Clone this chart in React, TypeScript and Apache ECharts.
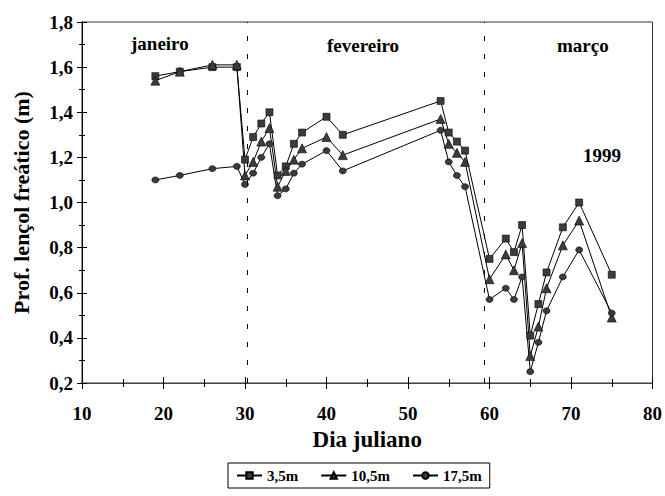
import React, { useEffect, useRef } from "react";
import * as echarts from "echarts";

const days = [19, 22, 26, 29, 30, 31, 32, 33, 34, 35, 36, 37, 40, 42, 54, 55, 56, 57, 60, 62, 63, 64, 65, 66, 67, 69, 71, 75];
const depth35 = [1.56, 1.58, 1.60, 1.60, 1.19, 1.29, 1.35, 1.40, 1.12, 1.16, 1.26, 1.31, 1.38, 1.30, 1.45, 1.31, 1.27, 1.23, 0.75, 0.84, 0.78, 0.90, 0.41, 0.55, 0.69, 0.89, 1.00, 0.68];
const depth105 = [1.54, 1.58, 1.61, 1.61, 1.12, 1.18, 1.27, 1.33, 1.07, 1.14, 1.19, 1.24, 1.29, 1.21, 1.37, 1.26, 1.22, 1.18, 0.66, 0.77, 0.70, 0.82, 0.32, 0.45, 0.62, 0.81, 0.92, 0.49];
const depth175 = [1.10, 1.12, 1.15, 1.16, 1.08, 1.13, 1.20, 1.26, 1.03, 1.06, 1.13, 1.17, 1.23, 1.14, 1.32, 1.18, 1.12, 1.07, 0.57, 0.62, 0.57, 0.67, 0.25, 0.38, 0.52, 0.67, 0.79, 0.51];
const seriesNames = ["3,5m", "10,5m", "17,5m"];
const monthBounds = [30.3, 59.4];
const monthLabels = ["janeiro", "fevereiro", "março"];
const yearLabel = "1999";
const xTitle = "Dia juliano";
const yTitle = "Prof. lençol freático (m)";

const FONT = "'Liberation Serif', 'Times New Roman', serif";

export default function App() {
  const ref = useRef<HTMLDivElement>(null);
  useEffect(() => {
    document.body.style.margin = "0";
    const chart = echarts.init(ref.current!, null, { renderer: "svg" });
    const mk = (ys: number[]) => days.map((d, i) => [d, ys[i]]);
    const base = {
      type: "line",
      xAxisIndex: 0,
      yAxisIndex: 0,
      lineStyle: { color: "#000", width: 1 },
      itemStyle: { color: "#3c3c3c", borderColor: "#000", borderWidth: 0.6 },
      showAllSymbol: true,
    };
    const xCommon = {
      type: "value",
      min: 10,
      max: 80,
      interval: 10,
      position: "bottom",
      splitLine: { show: false },
    };
    const yCommon = {
      type: "value",
      min: 0.2,
      max: 1.8,
      interval: 0.2,
      position: "left",
      splitLine: { show: false },
    };
    chart.setOption({
      animation: false,
      grid: { left: 82, right: 8, top: 22, bottom: 113, show: true, borderColor: "#333", borderWidth: 1 },
      xAxis: [
        {
          ...xCommon,
          name: xTitle,
          nameLocation: "middle",
          nameGap: 43,
          nameTextStyle: { fontFamily: FONT, fontWeight: "bold", fontSize: 23, color: "#000" },
          axisLine: { lineStyle: { color: "#444", width: 1 } },
          axisTick: { inside: false, length: 6, lineStyle: { color: "#000" } },
          minorTick: { show: true, splitNumber: 2, length: 4, lineStyle: { color: "#000" } },
          axisLabel: { margin: 21, fontFamily: FONT, fontWeight: "bold", fontSize: 19, color: "#000" },
        },
        {
          ...xCommon,
          axisLine: { show: false },
          axisTick: { inside: true, length: 6, lineStyle: { color: "#000" } },
          minorTick: { show: true, splitNumber: 2, length: 4, lineStyle: { color: "#000" } },
          axisLabel: { show: false },
        },
      ],
      yAxis: [
        {
          ...yCommon,
          name: yTitle,
          nameLocation: "middle",
          nameGap: 50,
          nameRotate: 90,
          nameTextStyle: { fontFamily: FONT, fontWeight: "bold", fontSize: 22, color: "#000" },
          axisLine: { lineStyle: { color: "#000", width: 1 } },
          axisTick: { inside: false, length: 5, lineStyle: { color: "#000" } },
          minorTick: { show: true, splitNumber: 2, length: 3, lineStyle: { color: "#000" } },
          axisLabel: {
            margin: 9,
            fontFamily: FONT,
            fontWeight: "bold",
            fontSize: 19,
            color: "#000",
            formatter: (v: number) => v.toFixed(1).replace(".", ","),
          },
        },
        {
          ...yCommon,
          axisLine: { show: false },
          axisTick: { inside: true, length: 5, lineStyle: { color: "#000" } },
          minorTick: { show: true, splitNumber: 2, length: 3, lineStyle: { color: "#000" } },
          axisLabel: { show: false },
        },
      ],
      legend: {
        left: 228,
        top: 463,
        itemWidth: 25,
        itemHeight: 8,
        itemGap: 22,
        padding: [5, 8],
        borderColor: "#000",
        borderWidth: 1,
        data: seriesNames,
        textStyle: { fontFamily: FONT, fontWeight: "bold", fontSize: 15, color: "#000" },
      },
      series: [
        {
          ...base,
          name: seriesNames[0],
          data: mk(depth35),
          symbol: "rect",
          symbolSize: 7,
          markLine: {
            silent: true,
            symbol: "none",
            label: { show: false },
            lineStyle: { color: "#000", width: 1, type: [5, 13] },
            data: monthBounds.map((b) => ({ xAxis: b })),
          },
        },
        { ...base, name: seriesNames[1], data: mk(depth105), symbol: "triangle", symbolSize: 9 },
        { ...base, name: seriesNames[2], data: mk(depth175), symbol: "circle", symbolSize: [7, 6] },
      ],
      graphic: [
        { type: "text", left: 131, top: 34, style: { text: monthLabels[0], font: `bold 19px ${FONT}`, fill: "#000" } },
        { type: "text", left: 327, top: 36, style: { text: monthLabels[1], font: `bold 19px ${FONT}`, fill: "#000" } },
        { type: "text", left: 557, top: 36, style: { text: monthLabels[2], font: `bold 19px ${FONT}`, fill: "#000" } },
        { type: "text", left: 583, top: 146, style: { text: yearLabel, font: `bold 19px ${FONT}`, fill: "#000" } },
      ],
    });
    return () => chart.dispose();
  }, []);
  return <div ref={ref} style={{ width: 665, height: 496 }} />;
}
